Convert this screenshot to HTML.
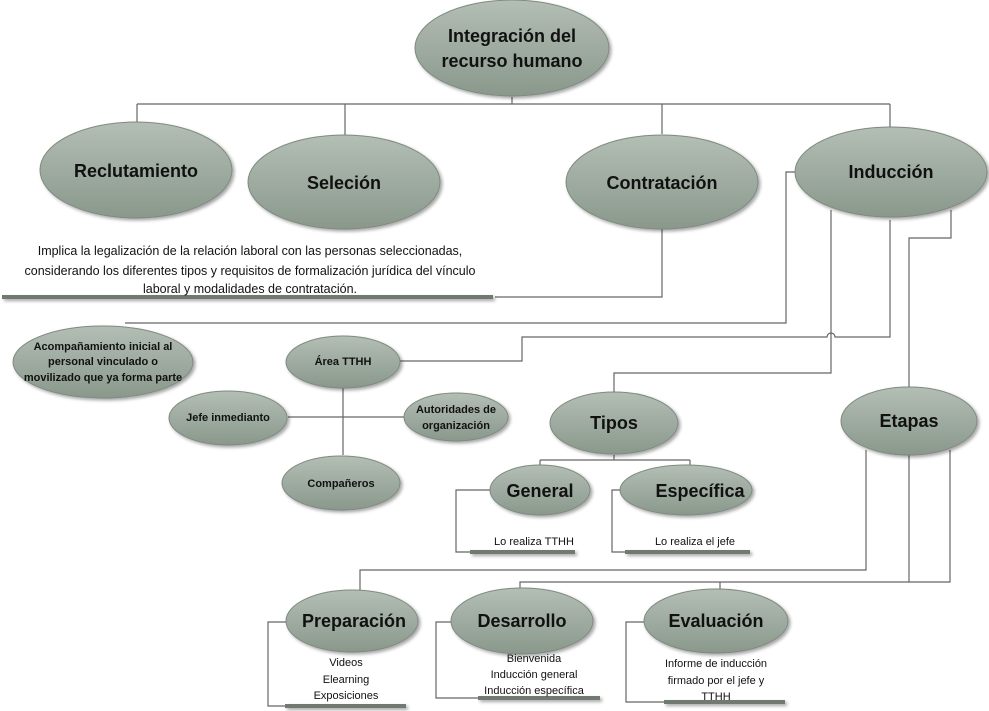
<!DOCTYPE html>
<html><head><meta charset="utf-8"><style>
html,body{margin:0;padding:0;background:#fff;}
svg{display:block;font-family:"Liberation Sans",sans-serif;}
.b{font-weight:bold;fill:#111;}
.t{fill:#111;}
</style></head><body>
<svg width="989" height="711" viewBox="0 0 989 711" xmlns="http://www.w3.org/2000/svg">
<defs>
<linearGradient id="g" x1="0" y1="0" x2="0" y2="1">
<stop offset="0" stop-color="#b3beb4"/><stop offset="1" stop-color="#8a988c"/>
</linearGradient>
<filter id="s" x="-10%" y="-10%" width="125%" height="130%"><feDropShadow dx="2" dy="2" stdDeviation="1.5" flood-color="#000" flood-opacity="0.35"/></filter>
</defs>
<g stroke="#666" stroke-width="1.2" fill="none">
<path d="M512 97V104M137 104H890M137 104V122M345 104V135M662 104V134M890 104V130"/>
<path d="M662 229V297H495"/>
<path d="M795 172H786V323H125"/>
<path d="M890 220V337H835a4 4 0 0 0 -8 0H522V361H400"/>
<path d="M831 210V373H614V392"/>
<path d="M951 210V238H909V388"/>
<path d="M343 388V455M288 417H404"/>
<path d="M614 455V460M540 460H690M540 460V466M690 460V466"/>
<path d="M490 490H456V552H470M620 490H612V552H625"/>
<path d="M866 450V570H360V590M909 452V582M950 450V582H520V590M720 582V590M520 582H950"/>
<path d="M287 622H268V706H285M452 622H436V698H478M644 622H626V702H664"/>
</g>
<g fill="#6f7a71" filter="url(#s)">
<rect x="2" y="295" width="491" height="4"/>
<rect x="470" y="550" width="105" height="4"/>
<rect x="625" y="550" width="125" height="4"/>
<rect x="285" y="704" width="121" height="4"/>
<rect x="478" y="696" width="122" height="4"/>
<rect x="664" y="700" width="121" height="4"/>
</g>
<g fill="url(#g)" stroke="#7f8a81" stroke-width="1" filter="url(#s)">
<ellipse cx="512" cy="48" rx="97" ry="48"/>
<ellipse cx="136" cy="170" rx="96" ry="48"/>
<ellipse cx="344" cy="182" rx="96" ry="47"/>
<ellipse cx="662" cy="182" rx="96" ry="47"/>
<ellipse cx="891" cy="172" rx="96" ry="45"/>
<ellipse cx="103" cy="362" rx="90" ry="36"/>
<ellipse cx="343" cy="362" rx="57" ry="26"/>
<ellipse cx="228" cy="418" rx="59" ry="27"/>
<ellipse cx="456" cy="417" rx="52" ry="24"/>
<ellipse cx="341" cy="483" rx="59" ry="27"/>
<ellipse cx="614" cy="423" rx="64" ry="31"/>
<ellipse cx="909" cy="421" rx="68" ry="34"/>
<ellipse cx="540" cy="490" rx="50" ry="25"/>
<ellipse cx="686" cy="490" rx="66" ry="25"/>
<ellipse cx="352" cy="621" rx="66" ry="31"/>
<ellipse cx="522" cy="621" rx="71" ry="33"/>
<ellipse cx="716" cy="621" rx="72" ry="32"/>
</g>
<g class="b" text-anchor="middle">
<text x="512" y="42" font-size="18">Integración del</text>
<text x="512" y="67" font-size="18">recurso humano</text>
<text x="136" y="177" font-size="18">Reclutamiento</text>
<text x="344" y="189" font-size="18">Seleción</text>
<text x="662" y="189" font-size="18">Contratación</text>
<text x="891" y="178" font-size="18">Inducción</text>
<text x="103" y="350" font-size="11">Acompañamiento inicial al</text>
<text x="103" y="365" font-size="11">personal vinculado o</text>
<text x="103" y="381" font-size="11">movilizado que ya forma parte</text>
<text x="343" y="365" font-size="11">Área TTHH</text>
<text x="228" y="421" font-size="11">Jefe inmedianto</text>
<text x="456" y="413" font-size="11">Autoridades de</text>
<text x="456" y="429" font-size="11">organización</text>
<text x="341" y="487" font-size="11">Compañeros</text>
<text x="614" y="429" font-size="18">Tipos</text>
<text x="909" y="427" font-size="18">Etapas</text>
<text x="540" y="497" font-size="18">General</text>
<text x="700" y="497" font-size="18">Específica</text>
<text x="354" y="627" font-size="18">Preparación</text>
<text x="522" y="627" font-size="18">Desarrollo</text>
<text x="716" y="627" font-size="18">Evaluación</text>
</g>
<g class="t" text-anchor="middle" font-size="12.5">
<text x="250" y="255">Implica la legalización de la relación laboral con las personas seleccionadas,</text>
<text x="250" y="275">considerando los diferentes tipos y requisitos de formalización jurídica del vínculo</text>
<text x="250" y="293">laboral y modalidades de contratación.</text>
</g>
<g class="t" text-anchor="middle" font-size="11">
<text x="534" y="545">Lo realiza TTHH</text>
<text x="695" y="545">Lo realiza el jefe</text>
<text x="346" y="666">Videos</text>
<text x="346" y="683">Elearning</text>
<text x="346" y="699">Exposiciones</text>
<text x="534" y="662">Bienvenida</text>
<text x="534" y="678">Inducción general</text>
<text x="534" y="694">Inducción específica</text>
<text x="716" y="667">Informe de inducción</text>
<text x="716" y="684">firmado por el jefe y</text>
<text x="716" y="700">TTHH</text>
</g>
</svg>
</body></html>
